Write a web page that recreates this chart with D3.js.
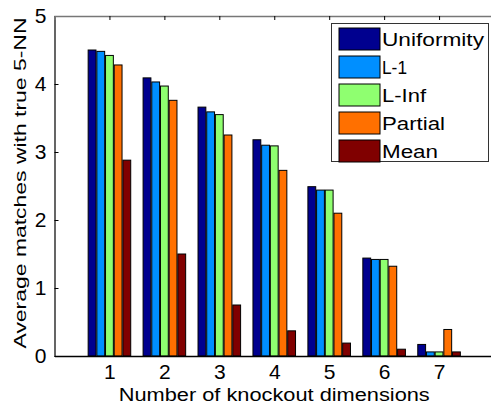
<!DOCTYPE html>
<html><head><meta charset="utf-8">
<script src="https://cdn.jsdelivr.net/npm/d3@7"></script>
<style>html,body{margin:0;padding:0;background:#fff;overflow:hidden}text{font-family:"Liberation Sans",Arial,sans-serif;fill:#000}</style>
</head><body><svg id="c" width="491" height="406"></svg>
<script>
const categories = [1, 2, 3, 4, 5, 6, 7];
const seriesNames = ["Uniformity", "L-1", "L-Inf", "Partial", "Mean"];
const uniformity = [4.50, 4.09, 3.66, 3.18, 2.49, 1.44, 0.17];
const l1 = [4.48, 4.03, 3.59, 3.10, 2.44, 1.42, 0.06];
const lInf = [4.42, 3.97, 3.55, 3.09, 2.44, 1.42, 0.06];
const partial = [4.28, 3.76, 3.25, 2.73, 2.10, 1.32, 0.39];
const mean = [2.88, 1.50, 0.75, 0.37, 0.19, 0.10, 0.06];
const yTicks = [0, 1, 2, 3, 4, 5];
const colors = ["#00008F", "#008FFF", "#8FFF70", "#FF7000", "#800000"];
const xLabel = "Number of knockout dimensions";
const yLabel = "Average matches with true 5-NN";

(function () {
const seriesValues = [uniformity, l1, lInf, partial, mean];
const svg = d3.select("#c");
const pL = 54.5, pR = 494, pT = 16, pB = 356;
const x = d3.scaleLinear().domain([0, 8]).range([pL, pR]);
const y = d3.scaleLinear().domain([0, 5]).range([pB, pT]);
const groupW = (x(1) - x(0)) * 0.775;
const inner = d3.scaleBand().domain(seriesNames).range([-groupW / 2, groupW / 2]).paddingInner(0.1);

// bars
seriesNames.forEach((s, si) => {
  svg.append("g").selectAll("rect").data(categories).join("rect")
    .attr("x", (c) => x(c) + inner(s))
    .attr("width", inner.bandwidth())
    .attr("y", (c, i) => y(seriesValues[si][i]))
    .attr("height", (c, i) => y(0) - y(seriesValues[si][i]))
    .attr("fill", colors[si])
    .attr("stroke", "#000").attr("stroke-width", 1);
});

// axes
const yAxis = d3.axisLeft(y).tickValues(yTicks).tickSize(-4).tickPadding(7).tickFormat(d3.format("d"));
const gy = svg.append("g").attr("transform", `translate(${pL},0)`).call(yAxis);
gy.select(".domain").attr("stroke", "#000").attr("stroke-width", 1.2);
gy.selectAll(".tick text").attr("font-size", 21).attr("font-family", "Liberation Sans, Arial, sans-serif").attr("fill", "#000").attr("dx", "-1");

const xAxis = d3.axisBottom(x).tickValues(categories).tickSize(0).tickPadding(8).tickFormat(d3.format("d"));
const gx = svg.append("g").attr("transform", `translate(0,${pB})`).call(xAxis);
gx.select(".domain").attr("stroke", "#000").attr("stroke-width", 1.5);
gx.selectAll(".tick text").attr("font-size", 21).attr("font-family", "Liberation Sans, Arial, sans-serif").attr("fill", "#000");

const xTop = d3.axisBottom(x).tickValues(categories).tickSize(4).tickFormat("");
const gt = svg.append("g").attr("transform", `translate(0,${pT})`).call(xTop);
gt.select(".domain").attr("stroke", "#777").attr("stroke-width", 1.6);
gt.selectAll(".tick line").attr("stroke", "#000");

// labels
svg.append("text").attr("x", (pL + pR) / 2).attr("y", 401).attr("text-anchor", "middle")
  .attr("font-size", 18).attr("textLength", 311).attr("lengthAdjust", "spacingAndGlyphs").text(xLabel);
svg.append("text").attr("transform", `translate(26,${(pT + pB) / 2 - 3}) rotate(-90)`).attr("text-anchor", "middle")
  .attr("font-size", 17).attr("textLength", 331).attr("lengthAdjust", "spacingAndGlyphs").text(yLabel);

// legend
const lg = svg.append("g");
lg.append("rect").attr("x", 331.5).attr("y", 23.5).attr("width", 157).attr("height", 138)
  .attr("fill", "#fff").attr("stroke", "#333").attr("stroke-width", 1);
const legendWidths = [102, 25, 44, 63, 56];
const ly = d3.scalePoint().domain(seriesNames).range([39, 151]);
seriesNames.forEach((s, si) => {
  lg.append("rect").attr("x", 339).attr("y", ly(s) - 11).attr("width", 41).attr("height", 22)
    .attr("fill", colors[si]).attr("stroke", "#000").attr("stroke-width", 1);
  lg.append("text").attr("x", 382).attr("y", ly(s) + 6.5).attr("font-size", 17.5)
    .attr("textLength", legendWidths[si]).attr("lengthAdjust", "spacingAndGlyphs").text(s);
});
})();
</script></body></html>
